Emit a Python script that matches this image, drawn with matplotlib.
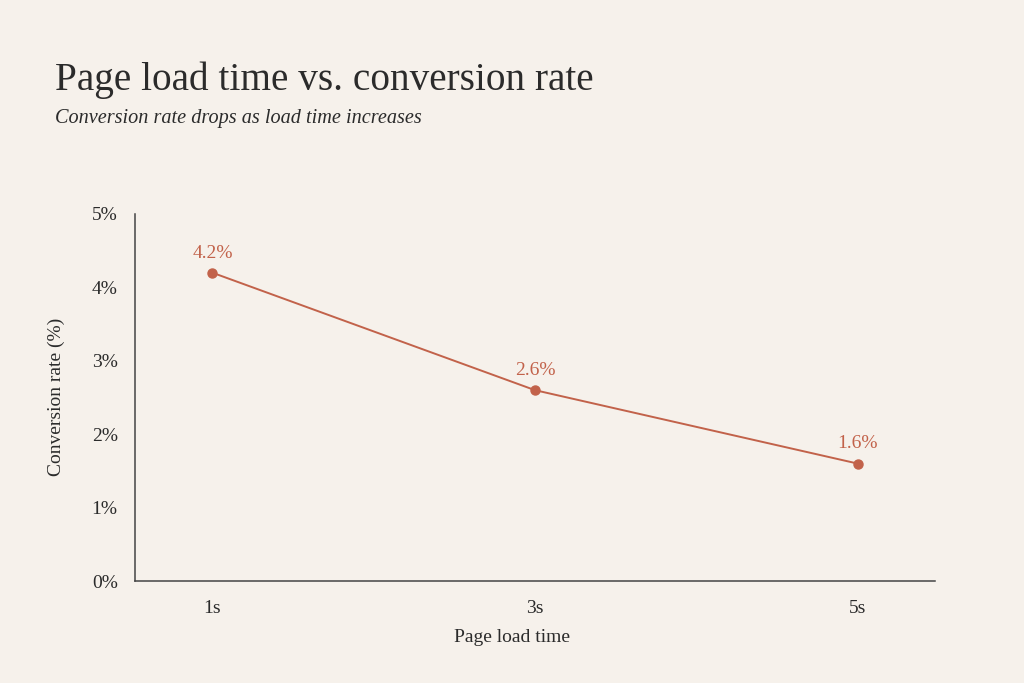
import matplotlib
matplotlib.use("Agg")
import matplotlib.pyplot as plt

load_times = [1, 3, 5]
tick_labels = ["1s", "3s", "5s"]
conversion = [4.2, 2.6, 1.6]
y_ticks = [0, 1, 2, 3, 4, 5]
y_tick_labels = ["0%", "1%", "2%", "3%", "4%", "5%"]

BG = "#f6f1eb"
TEXT = "#2b2b2b"
ACCENT = "#c2624a"

plt.rcParams['font.family'] = ['Liberation Serif', 'DejaVu Serif']

fig = plt.figure(figsize=(10.24, 6.83), dpi=100, facecolor=BG)
ax = fig.add_axes([135/1024, 1-581/683, 800/1024, (581-214)/683])
ax.set_facecolor(BG)

ax.plot(load_times, conversion, color=ACCENT, lw=1.4, marker='o', ms=6.5, zorder=3)
for x, y in zip(load_times, conversion):
    ax.annotate(f"{y:.1f}%", (x, y), xytext=(0, 8), textcoords='offset points',
                ha='center', va='bottom', color=ACCENT, fontsize=14)

ax.set_xlim(0.52, 5.48)
ax.set_ylim(0, 5)
ax.set_xticks(load_times)
ax.set_xticklabels(tick_labels)
ax.set_yticks(y_ticks)
ax.set_yticklabels(y_tick_labels)
ax.tick_params(length=0, labelsize=14, colors=TEXT)
ax.tick_params(axis='y', pad=12.5)
ax.tick_params(axis='x', pad=14)
for s in ['top', 'right']:
    ax.spines[s].set_visible(False)
for s in ['left', 'bottom']:
    ax.spines[s].set_color("#444444")
    ax.spines[s].set_linewidth(1.1)

fig.text(0.5, 1-637/683, "Page load time", ha='center', va='center', fontsize=14, color=TEXT)
fig.text(56/1024, 1-397/683, "Conversion rate (%)", ha='center', va='center', rotation=90,
         fontsize=14, color=TEXT)

fig.text(55/1024, 1-80/683, "Page load time vs. conversion rate", ha='left', va='center',
         fontsize=28.3, color=TEXT)
fig.text(55/1024, 1-119/683, "Conversion rate drops as load time increases", ha='left', va='center',
         fontsize=14.6, style='italic', color=TEXT)

fig.savefig("out.png", dpi=100, facecolor=BG)
